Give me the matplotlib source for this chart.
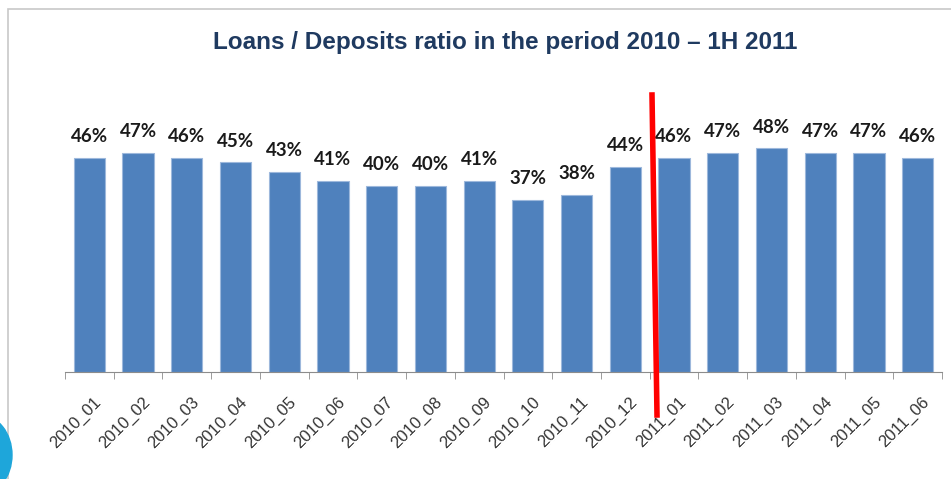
import matplotlib.pyplot as plt
import numpy as np
from matplotlib.patches import Rectangle, Ellipse
from matplotlib.lines import Line2D
from matplotlib.transforms import ScaledTranslation

months = ['2010_01', '2010_02', '2010_03', '2010_04', '2010_05', '2010_06',
          '2010_07', '2010_08', '2010_09', '2010_10', '2010_11', '2010_12',
          '2011_01', '2011_02', '2011_03', '2011_04', '2011_05', '2011_06']
ratio = [46, 47, 46, 45, 43, 41, 40, 40, 41, 37, 38, 44, 46, 47, 48, 47, 47, 46]

fig = plt.figure(figsize=(9.51, 4.79), dpi=100)

# frame around the slide chart
fig.patches.append(Rectangle((8 / 951, -0.1), 1.0, (479 - 9) / 479 + 0.1,
                             transform=fig.transFigure, fill=False,
                             edgecolor='#C8C8C8', linewidth=1.2))
# logo blob bottom left
fig.patches.append(Ellipse((-20 / 951, 1 - 455 / 479), 64 / 951, 80 / 479,
                           transform=fig.transFigure, color='#1EA6DA'))

ax = fig.add_axes([65 / 951, 107 / 479, 877 / 951, 312 / 479])
x = np.arange(len(months))
bars = ax.bar(x, ratio, width=0.64, color='#4F81BD', edgecolor='#9DB8DC',
              linewidth=0.8, zorder=2)
ax.set_xlim(-0.5, len(months) - 0.5)
ax.set_ylim(0, 67)

for xi, v in zip(x, ratio):
    ax.text(xi, v + 4.6, f'{v}%', ha='center', va='center', fontsize=13.5,
            fontweight='bold', family='Lato', color='#1a1a1a')

for s in ['top', 'right', 'left']:
    ax.spines[s].set_visible(False)
ax.spines['bottom'].set_color('#8C8C8C')
ax.set_yticks([])
ax.set_xticks(x)
ax.set_xticklabels(months, rotation=45, ha='right', rotation_mode='anchor',
                   fontsize=12, color='#333333', family='Liberation Sans')
ax.tick_params(axis='x', which='major', length=0, pad=16)
shift = ScaledTranslation(4 / 100, 0, fig.dpi_scale_trans)
for lbl in ax.get_xticklabels():
    lbl.set_transform(lbl.get_transform() + shift)
ax.set_xticks(np.arange(-0.5, len(months), 1.0), minor=True)
ax.tick_params(axis='x', which='minor', length=5, color='#8C8C8C')

fig.text(505 / 951, 1 - 43 / 479, 'Loans / Deposits ratio in the period 2010 \u2013 1H 2011',
         ha='center', va='center', fontsize=17.5, fontweight='bold',
         color='#1F3A60', family='Liberation Sans')

# red separator drawn by hand on the slide
fig.lines.append(Line2D([652 / 951, 657 / 951], [1 - 95 / 479, 1 - 415 / 479],
                        transform=fig.transFigure, color='#FF0000', linewidth=4))

plt.savefig('out.png', dpi=100)
